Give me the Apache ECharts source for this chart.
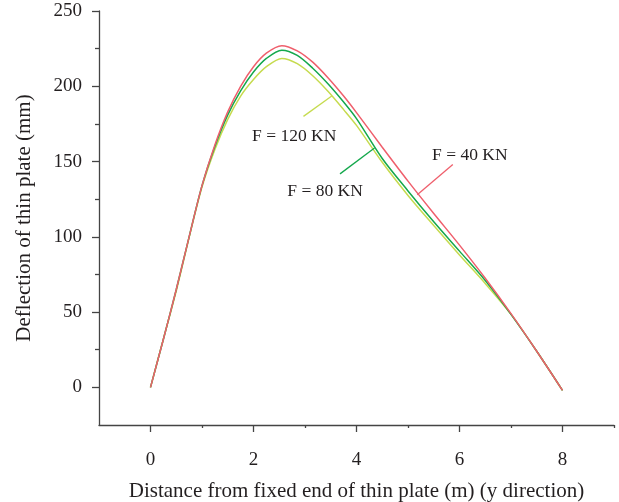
<!DOCTYPE html>
<html>
<head>
<meta charset="utf-8">
<script src="https://cdn.jsdelivr.net/npm/echarts@6/dist/echarts.min.js"></script>
<style>
  html, body { margin: 0; padding: 0; background: #fff; }
  #chart { width: 619px; height: 502px; }
</style>
</head>
<body>
<div id="chart"></div>
<script>
// distance from fixed end (m)
var xs = [0, 0.25, 0.5, 0.75, 1, 1.25, 1.5, 1.75, 2, 2.25, 2.55, 2.85, 3.15, 3.45, 3.75, 4, 4.5, 5, 5.5, 6, 6.5, 7, 7.5, 8];
// deflection (mm) for each load
var f40 = [0, 32, 65, 100, 134, 161, 183, 200, 213, 222, 227, 223.5, 216, 205.5, 193.5, 182.5, 159.5, 137, 115.5, 94.5, 72.5, 49, 24, -2];
var f80 = [0, 32, 65, 100, 134, 160, 181, 197, 209.5, 218.5, 224, 220.5, 212, 201.5, 189.5, 178.5, 152, 130.5, 110, 90.5, 71, 48.5, 24, -2];
var f120 = [0, 32, 64, 99.5, 133, 158, 178, 193.5, 204.5, 213, 218.5, 215, 207, 196.5, 184.5, 174, 149.5, 127.5, 107.5, 88, 69, 48.5, 24, -2];

var majorX = [0, 2, 4, 6, 8];
var minorX = [1, 3, 5, 7, 9];
var majorY = [0, 50, 100, 150, 200, 250];
var minorY = [25, 75, 125, 175, 225];

// label text, text anchor, leader line start (on curve) and end
var labelNames = ['F = 40 KN', 'F = 80 KN', 'F = 120 KN'];
var labelAt = [[6.2, 154], [3.39, 130], [2.79, 167]];
var leaderFrom = [[5.18, 128], [4.35, 159], [3.52, 193.5]];
var leaderTo = [[5.87, 148], [3.68, 141.8], [2.97, 180]];

var colors = ['#ef5f6c', '#14a84c', '#c6db4f'];
var font = 'Liberation Serif';
var ink = '#231f20';

function pairs(ys) {
  return xs.map(function (x, i) { return [x, ys[i]]; });
}

var chart = echarts.init(document.getElementById('chart'));

var axisLine = { show: true, lineStyle: { color: '#444', width: 1.3 } };

var series = [f40, f80, f120].map(function (ys, i) {
  return {
    type: 'line',
    data: pairs(ys),
    smooth: 0.3,
    showSymbol: false,
    symbol: 'none',
    z: 5 - i,
    lineStyle: { color: colors[i], width: 1.5 },
    markLine: {
      silent: true,
      symbol: ['none', 'none'],
      label: { show: false },
      lineStyle: { color: colors[i], width: 1.3, type: 'solid' },
      data: [[{ coord: leaderFrom[i] }, { coord: leaderTo[i] }]]
    },
    markPoint: {
      silent: true,
      symbol: 'circle',
      symbolSize: 0,
      label: {
        show: true,
        position: 'inside',
        formatter: labelNames[i],
        color: ink,
        fontFamily: font,
        fontSize: 17.5
      },
      data: [{ coord: labelAt[i] }]
    }
  };
});

var option = {
  backgroundColor: '#fff',
  animation: false,
  grid: { left: 99, right: 5, top: 11, bottom: 77, containLabel: false, outerBoundsMode: 'none' },
  xAxis: [{
    type: 'value',
    min: -1,
    max: 9,
    axisLine: Object.assign({ onZero: false }, axisLine),
    splitLine: { show: false },
    axisTick: { show: true, length: 7, customValues: majorX, lineStyle: { color: '#444', width: 1.3 } },
    axisLabel: { customValues: majorX, color: ink, fontFamily: font, fontSize: 19, margin: 26 },
    name: 'Distance from fixed end of thin plate (m) (y direction)',
    nameLocation: 'middle',
    nameGap: 56,
    nameTextStyle: { color: ink, fontFamily: font, fontSize: 21 }
  }, {
    type: 'value',
    min: -1,
    max: 9,
    position: 'bottom',
    axisLine: { show: false, onZero: false },
    splitLine: { show: false },
    axisTick: { show: true, length: 3, customValues: minorX, lineStyle: { color: '#444', width: 1.3 } },
    axisLabel: { show: false }
  }],
  yAxis: [{
    type: 'value',
    min: -25,
    max: 250,
    axisLine: Object.assign({ onZero: false }, axisLine),
    splitLine: { show: false },
    axisTick: { show: true, length: 7, customValues: majorY, lineStyle: { color: '#444', width: 1.3 } },
    axisLabel: { customValues: majorY, color: ink, fontFamily: font, fontSize: 19, margin: 17 },
    name: 'Deflection of thin plate (mm)',
    nameLocation: 'middle',
    nameGap: 64,
    nameTextStyle: { color: ink, fontFamily: font, fontSize: 21 }
  }, {
    type: 'value',
    min: -25,
    max: 250,
    position: 'left',
    axisLine: { show: false, onZero: false },
    splitLine: { show: false },
    axisTick: { show: true, length: 4, customValues: minorY, lineStyle: { color: '#444', width: 1.3 } },
    axisLabel: { show: false }
  }],
  series: series
};

chart.setOption(option);
</script>
</body>
</html>
